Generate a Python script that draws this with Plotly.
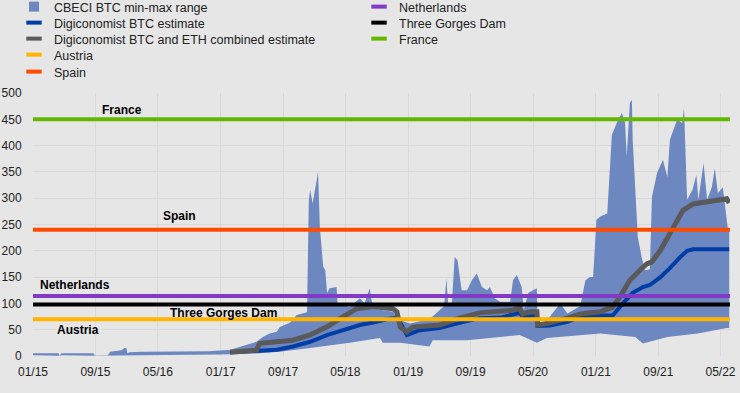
import plotly.graph_objects as go

# ---------------- data ----------------
band_max_dates = [
    "2015-01-01", "2015-04-10", "2015-04-15", "2015-04-22", "2015-08-24", "2015-08-30", "2015-10-20",
    "2015-10-28", "2015-12-12", "2015-12-22", "2015-12-31", "2016-01-03", "2016-01-12", "2016-02-10",
    "2016-03-01", "2016-11-15", "2017-01-01", "2017-02-07", "2017-05-20", "2017-06-14", "2017-07-10",
    "2017-08-07",
    "2017-08-19", "2017-09-27", "2017-10-24", "2017-12-03", "2017-12-10", "2017-12-15", "2017-12-25",
    "2018-01-15", "2018-01-22", "2018-02-04", "2018-02-12", "2018-02-19", "2018-03-01", "2018-03-28",
    "2018-04-01", "2018-05-18", "2018-06-27", "2018-07-15", "2018-08-04", "2018-08-16", "2018-09-24",
    "2018-11-03", "2018-12-01", "2019-01-08", "2019-03-25", "2019-05-03", "2019-05-21", "2019-05-30",
    "2019-06-05", "2019-06-20", "2019-07-01", "2019-07-12", "2019-07-28", "2019-08-18", "2019-09-06",
    "2019-09-25", "2019-10-15", "2019-11-04", "2019-11-15", "2019-12-04", "2019-12-24", "2020-02-02",
    "2020-02-13", "2020-02-28", "2020-03-18", "2020-03-26", "2020-04-12", "2020-05-01", "2020-05-16",
    "2020-05-19", "2020-06-24", "2020-08-15", "2020-09-12", "2020-11-01", "2020-11-21", "2020-12-09",
    "2020-12-21", "2021-01-03", "2021-01-18", "2021-02-14", "2021-03-04", "2021-03-23", "2021-04-12",
    "2021-04-24", "2021-05-01", "2021-05-13", "2021-05-21", "2021-05-24", "2021-06-03", "2021-06-13",
    "2021-06-28", "2021-07-10", "2021-07-30", "2021-08-07", "2021-08-27", "2021-09-19", "2021-10-06",
    "2021-10-16", "2021-11-13", "2021-12-03", "2021-12-10", "2021-12-22", "2022-01-12", "2022-01-27",
    "2022-02-04", "2022-02-24", "2022-03-10", "2022-03-28", "2022-04-09", "2022-04-21", "2022-05-10",
    "2022-05-25", "2022-05-30", "2022-06-04",
]
band_max_vals = [
    5, 5, 0.5, 5, 5, 1, 1.5,
    8, 11, 15, 15, 5, 7, 7,
    8, 9, 11, 12, 27, 36, 43,
    46,
    55, 63, 78, 83, 296, 316, 290,
    350, 245, 170, 163, 120, 129, 131,
    100, 93, 110, 100, 129, 91, 87,
    84, 68, 62, 70, 87, 95, 148,
    100, 100, 188, 182, 125, 125, 144,
    157, 131, 125, 131, 110, 103, 103,
    144, 154, 131, 87, 120, 125, 129,
    55, 68, 100, 81, 95, 144, 150,
    150, 259, 265, 271, 420, 443, 462,
    445, 379, 481, 487, 411, 316, 226,
    188, 163, 165, 302, 348, 373, 340,
    411, 449, 443, 471, 297, 316, 344,
    297, 367, 297, 321, 357, 310, 321,
    264, 240, 240,
]

band_min_dates = [
    "2015-01-01", "2015-04-15", "2015-04-22", "2015-08-30", "2015-10-28", "2016-06-01", "2017-01-01",
    "2017-06-02", "2017-08-19", "2017-12-15", "2018-05-18", "2018-09-13", "2018-09-24", "2018-12-01",
    "2019-03-25", "2019-04-06", "2019-08-18", "2019-12-24", "2020-03-10", "2020-05-16", "2020-06-24",
    "2021-01-18", "2021-06-03", "2021-07-03", "2021-10-06", "2022-02-01", "2022-05-25", "2022-06-04",
]
band_min_vals = [
    1.5, 0.3, 1.5, 0.3, 1.5, 2, 3,
    5, 8, 15, 25, 34, 25, 25,
    18, 30, 30, 36, 40, 25, 34,
    43, 36, 24, 36, 43, 53, 53,
]

btc_dates = [
    "2017-02-07", "2017-06-02", "2017-08-07", "2017-10-09", "2017-12-15", "2018-02-21", "2018-04-23",
    "2018-06-27", "2018-08-31", "2018-10-20", "2018-11-21", "2018-12-27",
    "2019-02-15", "2019-05-03", "2019-07-20", "2019-10-06", "2019-12-24", "2020-02-13", "2020-03-10",
    "2020-03-21", "2020-04-19", "2020-05-16", "2020-05-19", "2020-07-06", "2020-09-12", "2020-11-01",
    "2021-01-18", "2021-03-07", "2021-04-16", "2021-05-24", "2021-07-03", "2021-07-30", "2021-09-09",
    "2021-10-16", "2021-11-25", "2021-12-22", "2022-01-15", "2022-06-04",
]
btc_vals = [
    7, 10, 12, 18, 27, 40, 49,
    59, 65, 71, 72, 40,
    49, 53, 63, 72, 73, 78, 82,
    75, 76, 76, 57, 58, 65, 75,
    77, 77, 100, 120, 131, 135, 150,
    167, 188, 200, 203, 203,
]

btc_eth_dates = [
    "2017-02-07", "2017-05-20", "2017-06-02", "2017-10-09", "2017-12-15", "2018-02-21", "2018-04-23",
    "2018-06-15", "2018-08-16", "2018-09-24", "2018-11-03", "2018-11-18", "2018-12-01", "2018-12-27",
    "2019-01-19", "2019-05-03", "2019-07-20", "2019-10-06", "2019-12-24", "2020-02-13", "2020-03-10",
    "2020-03-21", "2020-04-19", "2020-05-16", "2020-05-19", "2020-07-06", "2020-09-12", "2020-11-01",
    "2021-01-18", "2021-03-07", "2021-04-04", "2021-05-13", "2021-06-21", "2021-07-18", "2021-08-07",
    "2021-09-09", "2021-10-16", "2021-11-13", "2021-12-06", "2022-01-15", "2022-03-10", "2022-04-28",
    "2022-05-25", "2022-06-04",
]
btc_eth_vals = [
    7, 11, 24, 30, 40, 56, 75,
    90, 94, 92, 90, 84, 55, 46,
    55, 59, 72, 82, 84, 87, 91,
    80, 84, 84, 59, 63, 72, 80,
    84, 93, 112, 144, 163, 175, 179,
    201, 233, 258, 277, 289, 293, 298,
    299, 291,
]

countries = ["Austria", "Spain", "Netherlands", "Three Gorges Dam", "France"]
country_vals = [70, 240, 114, 98, 450]
country_colors = ["#ffb400", "#ff4b00", "#8139c6", "#000000", "#65b800"]

label_x = ["2015-06-24", "2016-07-25", "2015-06-15", "2017-01-13", "2015-12-15"]
label_y = [49, 266, 135, 82, 468]

tick_dates = ["2015-01-01", "2015-09-01", "2016-05-01", "2017-01-01", "2017-09-01", "2018-05-01",
              "2019-01-01", "2019-09-01", "2020-05-01", "2021-01-01", "2021-09-01", "2022-05-01"]
tick_text = ["01/15", "09/15", "05/16", "01/17", "09/17", "05/18",
             "01/19", "09/19", "05/20", "01/21", "09/21", "05/22"]

x_start, x_end = "2015-01-01", "2022-06-07"

band_name = "CBECI BTC min-max range"
btc_name = "Digiconomist BTC estimate"
btc_eth_name = "Digiconomist BTC and ETH combined estimate"

# ---------------- style ----------------
BG = "#e6e6e6"
GRID = "#d9d9d9"
BAND = "#6d87c1"
BLUE = "#003da5"
GREY = "#5a5a5a"
FONT = "Liberation Sans, Arial, sans-serif"
W, H = 740, 393

fig = go.Figure()

# band
fig.add_trace(go.Scatter(
    x=band_max_dates + band_min_dates[::-1],
    y=band_max_vals + band_min_vals[::-1],
    fill="toself", fillcolor=BAND, mode="lines", line=dict(width=0, color=BAND),
    showlegend=False, hoverinfo="skip"))

fig.add_trace(go.Scatter(x=btc_dates, y=btc_vals, mode="lines",
                         line=dict(color=BLUE, width=4), showlegend=False))
fig.add_trace(go.Scatter(x=btc_eth_dates, y=btc_eth_vals, mode="lines",
                         line=dict(color=GREY, width=5), showlegend=False))

for name, v, c in zip(countries, country_vals, country_colors):
    fig.add_trace(go.Scatter(x=[x_start, x_end], y=[v, v], mode="lines",
                             line=dict(color=c, width=4), showlegend=False))

for name, lx, ly in zip(countries, label_x, label_y):
    fig.add_annotation(x=lx, y=ly, text=f"<b>{name}</b>", showarrow=False,
                       font=dict(family=FONT, size=12, color="#000000"))

# legend (one legend per row to reproduce the compact two-column layout)
legend_entries = [
    (band_name, "square", BAND, 14, 7),
    (btc_name, "line-ew", BLUE, 14, 23),
    (btc_eth_name, "line-ew", GREY, 14, 39),
    (countries[0], "line-ew", country_colors[0], 14, 55),
    (countries[1], "line-ew", country_colors[1], 14, 72),
    (countries[2], "line-ew", country_colors[2], 359, 7),
    (countries[3], "line-ew", country_colors[3], 359, 23),
    (countries[4], "line-ew", country_colors[4], 359, 39),
]
layout_legends = {}
for i, (name, sym, col, lx, ly) in enumerate(legend_entries):
    key = "legend" if i == 0 else f"legend{i + 1}"
    if sym == "square":
        marker = dict(symbol="square", size=10, color=col)
    else:
        marker = dict(symbol="line-ew", size=11, color=col, line=dict(color=col, width=4))
    fig.add_trace(go.Scatter(x=[None], y=[None], mode="markers", name=name,
                             marker=marker, legend=key, showlegend=True))
    layout_legends[key] = dict(
        x=lx / W, xref="container", xanchor="left",
        y=1 - ly / H, yref="container", yanchor="middle",
        bgcolor="rgba(0,0,0,0)", borderwidth=0,
        font=dict(family=FONT, size=12.5, color="#222222"),
        itemclick=False, itemdoubleclick=False,
    )

fig.update_layout(
    width=W, height=H,
    paper_bgcolor=BG, plot_bgcolor=BG,
    margin=dict(l=33, r=10, t=93, b=37, autoexpand=False),
    font=dict(family=FONT, size=12, color="#222222"),
    hovermode=False,
    **layout_legends,
)

fig.update_xaxes(
    type="date", range=[x_start, x_end],
    tickmode="array", tickvals=tick_dates, ticktext=tick_text, tickangle=0,
    showgrid=True, gridcolor=GRID, gridwidth=1,
    ticks="outside", ticklen=5, tickcolor=BG,
    showline=False, zeroline=False, automargin=False,
    tickfont=dict(family=FONT, size=12, color="#222222"),
)
fig.update_yaxes(
    range=[0, 500], tickmode="array", tickvals=list(range(0, 501, 50)),
    showgrid=True, gridcolor=GRID, gridwidth=1,
    ticks="outside", ticklen=8, tickcolor=BG,
    showline=False, zeroline=False, automargin=False,
    tickfont=dict(family=FONT, size=12, color="#222222"),
)

fig.write_html(
    "out.html",
    config={"displayModeBar": False},
    post_script="document.body.style.margin='0px';document.body.style.background='" + BG + "';",
)
